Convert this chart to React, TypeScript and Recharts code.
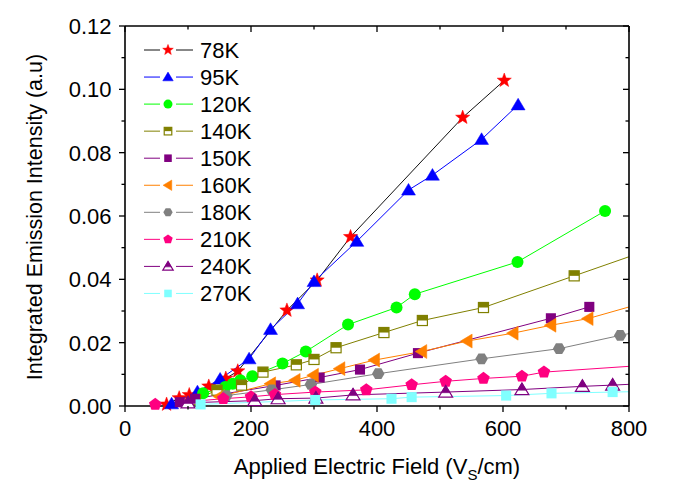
import React from 'react';
import { LineChart, Line, XAxis, YAxis, Legend } from 'recharts';

// ---------- axis ticks ----------
const xTicks = [0, 100, 200, 300, 400, 500, 600, 700, 800];
const xLabeled = [0, 200, 400, 600, 800];
const yTicks = [0, 0.01, 0.02, 0.03, 0.04, 0.05, 0.06, 0.07, 0.08, 0.09, 0.1, 0.11, 0.12];
const yLabeled = [0, 0.02, 0.04, 0.06, 0.08, 0.1, 0.12];
const xMax = 800;
const yMax = 0.12;

// ---------- series data (x: field V/cm, y: intensity a.u) ----------
const k78X = [66, 86, 102, 133, 160, 179, 257, 305, 358, 536, 602];
const k78Y = [0.0005, 0.0025, 0.0035, 0.0062, 0.0087, 0.011, 0.0302, 0.0397, 0.0534, 0.0911, 0.1028];

const k95X = [74, 115, 151, 197, 231, 274, 300, 368, 450, 488, 566, 624];
const k95Y = [0.0007, 0.0045, 0.0085, 0.0149, 0.0242, 0.0323, 0.0393, 0.052, 0.0682, 0.0729, 0.0842, 0.0951];

const k120X = [124, 159, 171, 183, 202, 250, 287, 354, 431, 460, 623, 762];
const k120Y = [0.004, 0.006, 0.007, 0.0081, 0.0094, 0.0134, 0.0172, 0.0257, 0.0311, 0.0353, 0.0455, 0.0616];

const k140X = [112, 146, 185, 219, 272, 300, 335, 411, 472, 569, 713, 850];
const k140Y = [0.002, 0.005, 0.0066, 0.0107, 0.013, 0.0147, 0.0184, 0.0232, 0.027, 0.0311, 0.0411, 0.0506];

const k150X = [87, 111, 239, 309, 373, 465, 676, 737];
const k150Y = [0.0012, 0.0023, 0.0065, 0.009, 0.0115, 0.0167, 0.0277, 0.0313];

const k160X = [150, 231, 270, 299, 341, 396, 471, 543, 616, 676, 735, 850];
const k160Y = [0.003, 0.007, 0.0081, 0.0097, 0.0118, 0.0145, 0.0172, 0.0205, 0.023, 0.0255, 0.0276, 0.0341];

const k180X = [161, 233, 295, 402, 566, 689, 786, 850];
const k180Y = [0.0033, 0.0051, 0.0068, 0.0102, 0.0149, 0.0181, 0.0223, 0.0249];

const k210X = [48, 156, 200, 238, 302, 383, 455, 509, 569, 630, 665, 850];
const k210Y = [0.0005, 0.0023, 0.0029, 0.0036, 0.0044, 0.0051, 0.0067, 0.0078, 0.0087, 0.0094, 0.0107, 0.0132];

const k240X = [100, 206, 243, 303, 362, 509, 630, 726, 774, 850];
const k240Y = [0.001, 0.0017, 0.0023, 0.0025, 0.0035, 0.0044, 0.0052, 0.0062, 0.0066, 0.0073];

const k270X = [120, 302, 423, 455, 605, 677, 774, 850];
const k270Y = [0.0005, 0.0019, 0.0023, 0.0028, 0.0033, 0.004, 0.0044, 0.0047];

const seriesNames = ['78K', '95K', '120K', '140K', '150K', '160K', '180K', '210K', '240K', '270K'];

const toRows = (xs: number[], ys: number[]) => xs.map((x, i) => ({ x, y: ys[i] }));

type Kind = 'star' | 'triUp' | 'circle' | 'halfSquare' | 'square' | 'triLeft' | 'hexagon' | 'pentagon' | 'halfTriUp' | 'squareCyan';

const series: { name: string; data: { x: number; y: number }[]; kind: Kind; color: string; line: string }[] = [
  { name: seriesNames[0], data: toRows(k78X, k78Y), kind: 'star', color: '#FF0000', line: '#111111' },
  { name: seriesNames[1], data: toRows(k95X, k95Y), kind: 'triUp', color: '#0000FF', line: '#0000FF' },
  { name: seriesNames[2], data: toRows(k120X, k120Y), kind: 'circle', color: '#00FF00', line: '#00FF00' },
  { name: seriesNames[3], data: toRows(k140X, k140Y), kind: 'halfSquare', color: '#808000', line: '#808000' },
  { name: seriesNames[4], data: toRows(k150X, k150Y), kind: 'square', color: '#800080', line: '#800080' },
  { name: seriesNames[5], data: toRows(k160X, k160Y), kind: 'triLeft', color: '#FF8000', line: '#FF8000' },
  { name: seriesNames[6], data: toRows(k180X, k180Y), kind: 'hexagon', color: '#808080', line: '#808080' },
  { name: seriesNames[7], data: toRows(k210X, k210Y), kind: 'pentagon', color: '#FF0080', line: '#FF0080' },
  { name: seriesNames[8], data: toRows(k240X, k240Y), kind: 'halfTriUp', color: '#800080', line: '#800080' },
  { name: seriesNames[9], data: toRows(k270X, k270Y), kind: 'squareCyan', color: '#80FFFF', line: '#80FFFF' },
];

// ---------- layout ----------
const CHART_W = 685;
const CHART_H = 500;
const MARGIN = { top: 26, right: 56, bottom: 0, left: 0 };
const Y_AXIS_W = 125;
const X_AXIS_H = 94;
const PLOT_L = MARGIN.left + Y_AXIS_W;
const PLOT_T = MARGIN.top;
const PLOT_W = CHART_W - MARGIN.left - MARGIN.right - Y_AXIS_W;
const PLOT_H = CHART_H - MARGIN.top - MARGIN.bottom - X_AXIS_H;

const FONT = '"Liberation Sans", Arial, Helvetica, sans-serif';

const polyPts = (cx: number, cy: number, r: number, n: number, start: number) => {
  const p: string[] = [];
  for (let i = 0; i < n; i++) {
    const a = start + (i * 2 * Math.PI) / n;
    p.push(`${cx + r * Math.cos(a)},${cy + r * Math.sin(a)}`);
  }
  return p.join(' ');
};

const starPts = (cx: number, cy: number, R: number) => {
  const p: string[] = [];
  for (let i = 0; i < 10; i++) {
    const r = i % 2 === 0 ? R : R * 0.42;
    const a = -Math.PI / 2 + (i * Math.PI) / 5;
    p.push(`${cx + r * Math.cos(a)},${cy + r * Math.sin(a)}`);
  }
  return p.join(' ');
};

function Marker({ kind, cx, cy, color, s }: { kind: Kind; cx: number; cy: number; color: string; s: number }) {
  const h = s / 2;
  switch (kind) {
    case 'star':
      return <polygon points={starPts(cx, cy, s * 0.62)} fill={color} stroke={color} strokeWidth={0.5} />;
    case 'triUp':
      return (
        <polygon
          points={`${cx},${cy - s * 0.55} ${cx - s * 0.58},${cy + s * 0.42} ${cx + s * 0.58},${cy + s * 0.42}`}
          fill={color}
          stroke={color}
          strokeWidth={0.5}
        />
      );
    case 'circle':
      return <circle cx={cx} cy={cy} r={s * 0.5} fill={color} />;
    case 'halfSquare': {
      const a = s * 0.42;
      return (
        <g>
          <rect x={cx - a} y={cy - a} width={2 * a} height={2 * a} fill="#fff" stroke={color} strokeWidth={1.2} />
          <rect x={cx - a} y={cy - a} width={2 * a} height={a} fill={color} />
        </g>
      );
    }
    case 'square':
    case 'squareCyan': {
      const a = s * 0.42;
      return <rect x={cx - a} y={cy - a} width={2 * a} height={2 * a} fill={color} />;
    }
    case 'triLeft':
      return (
        <polygon
          points={`${cx - s * 0.55},${cy} ${cx + s * 0.42},${cy - s * 0.58} ${cx + s * 0.42},${cy + s * 0.58}`}
          fill={color}
          stroke={color}
          strokeWidth={0.5}
        />
      );
    case 'hexagon':
      return <polygon points={polyPts(cx, cy, s * 0.52, 6, 0)} fill={color} />;
    case 'pentagon':
      return <polygon points={polyPts(cx, cy, s * 0.55, 5, -Math.PI / 2)} fill={color} />;
    case 'halfTriUp': {
      const top = cy - s * 0.55;
      const bot = cy + s * 0.42;
      const w = s * 0.58;
      const mid = top + (bot - top) * 0.62;
      const wm = w * 0.62;
      return (
        <g>
          <polygon points={`${cx},${top} ${cx - w},${bot} ${cx + w},${bot}`} fill="#fff" stroke={color} strokeWidth={1.2} />
          <polygon points={`${cx},${top} ${cx - wm},${mid} ${cx + wm},${mid}`} fill={color} stroke={color} strokeWidth={0.6} />
        </g>
      );
    }
    default:
      return <circle cx={cx} cy={cy} r={h} fill={color} />;
  }
}

const makeDot = (kind: Kind, color: string) => (props: any) => {
  const { cx, cy, index } = props;
  if (cx == null || cy == null || isNaN(cx) || isNaN(cy)) return <g key={`d-${index}`} />;
  return (
    <g key={`d-${index}`}>
      <Marker kind={kind} cx={cx} cy={cy} color={color} s={12} />
    </g>
  );
};

const isXMajor = (v: number) => xLabeled.includes(v);
const isYMajor = (v: number) => Math.round(v * 100) % 2 === 0;

// ---------- ticks ----------
const BottomTick = (props: any) => {
  const { x, y, payload } = props;
  const len = isXMajor(payload.value) ? 6 : 3.5;
  return (
    <g>
      <line x1={x} x2={x} y1={y} y2={y + len} stroke="#000" strokeWidth={1.3} />
      {isXMajor(payload.value) && (
        <text x={x} y={y + 30} textAnchor="middle" fontFamily={FONT} fontSize={22} fill="#000">
          {payload.value}
        </text>
      )}
    </g>
  );
};

const LeftTick = (props: any) => {
  const { x, y, payload } = props;
  const len = isYMajor(payload.value) ? 6 : 3.5;
  return (
    <g>
      <line x1={x - len} x2={x} y1={y} y2={y} stroke="#000" strokeWidth={1.3} />
      {isYMajor(payload.value) && (
        <text x={x - 13.5} y={y + 8} textAnchor="end" fontFamily={FONT} fontSize={22} fill="#000">
          {payload.value.toFixed(2)}
        </text>
      )}
    </g>
  );
};

// ---------- overlay: legend + mirrored top/right frame ----------
const fx = (v: number) => PLOT_L + (v / xMax) * PLOT_W;
const fy = (v: number) => PLOT_T + PLOT_H - (v / yMax) * PLOT_H;

const Overlay = () => (
  <svg width={CHART_W} height={CHART_H} style={{ display: 'block', position: 'absolute', left: 0, top: 0 }}>
    <line x1={PLOT_L} x2={PLOT_L + PLOT_W} y1={PLOT_T} y2={PLOT_T} stroke="#000" strokeWidth={1.6} />
    <line x1={PLOT_L + PLOT_W} x2={PLOT_L + PLOT_W} y1={PLOT_T} y2={PLOT_T + PLOT_H} stroke="#000" strokeWidth={1.6} />
    {xTicks.map((v) => (
      <line
        key={`t${v}`}
        x1={fx(v)}
        x2={fx(v)}
        y1={PLOT_T}
        y2={PLOT_T + (isXMajor(v) ? 6 : 3.5)}
        stroke="#000"
        strokeWidth={1.3}
      />
    ))}
    {yTicks.map((v) => (
      <line
        key={`r${v}`}
        x1={PLOT_L + PLOT_W - (isYMajor(v) ? 6 : 3.5)}
        x2={PLOT_L + PLOT_W}
        y1={fy(v)}
        y2={fy(v)}
        stroke="#000"
        strokeWidth={1.3}
      />
    ))}
    {series.map((s, i) => {
      const cy = 50 + i * 27.05;
      return (
        <g key={s.name}>
          <line x1={144} x2={160} y1={cy} y2={cy} stroke={s.line} strokeWidth={1} />
          <line x1={176} x2={193} y1={cy} y2={cy} stroke={s.line} strokeWidth={1} />
          <Marker kind={s.kind} cx={168} cy={cy} color={s.color} s={9} />
          <text x={200} y={cy + 8} fontFamily={FONT} fontSize={22} fill="#000">
            {s.name}
          </text>
        </g>
      );
    })}
  </svg>
);

const XTitle = (props: any) => {
  const vb = props.viewBox;
  return (
    <text x={vb.x + vb.width / 2} y={vb.y + 68} textAnchor="middle" fontFamily={FONT} fontSize={22} fill="#000">
      Applied Electric Field (V
      <tspan dy={6} fontSize={15}>S</tspan>
      <tspan dy={-6}>/cm)</tspan>
    </text>
  );
};

const YTitle = (props: any) => {
  const vb = props.viewBox;
  const cx = 42;
  const cy = vb.y + vb.height / 2 + 1;
  return (
    <text
      x={cx}
      y={cy}
      transform={`rotate(-90, ${cx}, ${cy})`}
      textAnchor="middle"
      fontFamily={FONT}
      fontSize={21.5}
      fill="#000"
    >
      Integrated Emission Intensity (a.u)
    </text>
  );
};

const axisLine = { stroke: '#000', strokeWidth: 1.6 };

export default function App() {
  return (
    <div style={{ position: 'absolute', left: 0, top: 0, width: CHART_W, height: CHART_H, background: '#fff' }}>
      <LineChart width={CHART_W} height={CHART_H} margin={MARGIN}>
        <XAxis
          xAxisId="b"
          dataKey="x"
          type="number"
          domain={[0, xMax]}
          allowDataOverflow
          ticks={xTicks}
          interval={0}
          orientation="bottom"
          height={X_AXIS_H}
          tickSize={0}
          tickMargin={0}
          tickLine={false}
          axisLine={axisLine}
          tick={(p: any) => <BottomTick {...p} />}
          label={{ content: (p: any) => <XTitle {...p} /> }}
        />
        <YAxis
          yAxisId="l"
          type="number"
          domain={[0, yMax]}
          ticks={yTicks}
          interval={0}
          orientation="left"
          width={Y_AXIS_W}
          tickSize={0}
          tickMargin={0}
          tickLine={false}
          axisLine={axisLine}
          tick={(p: any) => <LeftTick {...p} />}
          label={{ content: (p: any) => <YTitle {...p} /> }}
        />
        {series.map((s) => (
          <Line
            key={s.name}
            xAxisId="b"
            yAxisId="l"
            data={s.data}
            dataKey="y"
            name={s.name}
            stroke={s.line}
            strokeWidth={1}
            dot={makeDot(s.kind, s.color)}
            activeDot={false}
            isAnimationActive={false}
            legendType="none"
          />
        ))}
        <Legend
          layout="vertical"
          align="center"
          verticalAlign="middle"
          wrapperStyle={{ left: 0, top: 0, width: CHART_W, height: CHART_H, pointerEvents: 'none' }}
          content={() => <Overlay />}
        />
      </LineChart>
    </div>
  );
}
